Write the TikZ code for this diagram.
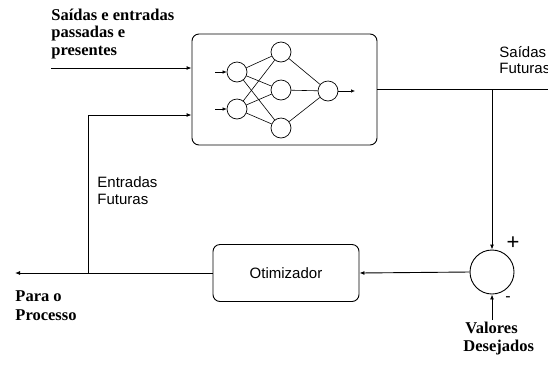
\documentclass[tikz,border=0pt]{standalone}
\usepackage{fontspec}
\setmainfont{Liberation Serif}
\setsansfont{Liberation Sans}
\usetikzlibrary{arrows.meta}
\begin{document}
\begin{tikzpicture}[x=1pt,y=-1pt, line width=0.9pt,
  arr/.style={-{Latex[length=5pt,width=4pt]}},
  neuron/.style={circle,draw,minimum size=20pt,inner sep=0pt,line width=0.7pt},
  syn/.style={line width=0.6pt},
  blk/.style={draw,rounded corners=7pt},
  serlab/.style={font=\fontsize{16.5}{18}\selectfont\bfseries, anchor=base west, inner sep=0pt},
  sanlab/.style={font=\sffamily\fontsize{15}{17}\selectfont, anchor=base west, inner sep=0pt}]
\useasboundingbox (0,0) rectangle (548,365);
% neural network block
\node[blk, minimum width=185pt, minimum height=111pt] (nn) at (284.5,89.5) {};
\node[neuron] (i1) at (237,72) {};
\node[neuron] (i2) at (237,109) {};
\node[neuron] (h1) at (281,52) {};
\node[neuron] (h2) at (281,90) {};
\node[neuron] (h3) at (281,128) {};
\node[neuron] (o) at (328,91) {};
\coordinate (ii1) at (215,72);
\coordinate (ii2) at (215,109);
\coordinate (oo) at (355,91);
\foreach \a in {i1,i2}{\foreach \b in {h1,h2,h3}{\draw[syn] (\a) -- (\b);}}
\foreach \b in {h1,h2,h3}{\draw[syn] (\b) -- (o);}
\draw[syn,-{Latex[length=4pt,width=3.5pt]}] (ii1) -- (i1);
\draw[syn,-{Latex[length=4pt,width=3.5pt]}] (ii2) -- (i2);
\draw[syn,-{Latex[length=4pt,width=3.5pt]}] (o) -- (oo);
% other blocks
\node[blk, minimum width=146pt, minimum height=57pt, font=\sffamily\fontsize{15}{17}\selectfont] (otim) at (286,273) {Otimizador};
\node[circle, draw, minimum size=44pt, inner sep=0pt] (sum) at (492,272) {};
% coordinates
\coordinate (in1) at (51,68);
\coordinate (in2) at (88,115);
\coordinate (j) at (88,273);
\coordinate (proc) at (15,273);
\coordinate (out) at (560,89.5);
\coordinate (sp) at (492,89.5);
\coordinate (val) at (492,320);
% connectors
\draw[arr] (in1) -- (in1 -| nn.west);
\draw[arr] (j) -- (in2) -- (in2 -| nn.west);
\draw (nn.east) -- (out);
\draw[arr] (sp) -- (sum.north);
\draw[arr] (sum.west) -- (otim.east);
\draw[arr] (otim.west) -- (proc);
\draw[arr] (val) -- (sum.south);
% labels
\node[serlab] (t1) at (51,20) {Saídas e entradas};
\node[serlab] (t2) at (51,37) {passadas e};
\node[serlab] (t3) at (51,55) {presentes};
\node[sanlab] (sf1) at (499,57) {Saídas};
\node[sanlab] (sf2) at (499,73) {Futuras};
\node[sanlab] (ef1) at (97,187) {Entradas};
\node[sanlab] (ef2) at (97,204) {Futuras};
\node[serlab] (po1) at (15,301) {Para o};
\node[serlab] (po2) at (15,320) {Processo};
\node[serlab] (vd1) at (465,333) {Valores};
\node[serlab] (vd2) at (463,351) {Desejados};
\node[font=\sffamily\fontsize{22}{24}\selectfont, inner sep=0pt] (plus) at (513,243) {+};
\node[font=\sffamily\fontsize{16}{18}\selectfont, inner sep=0pt] (minus) at (508,299) {-};
\end{tikzpicture}
\end{document}
